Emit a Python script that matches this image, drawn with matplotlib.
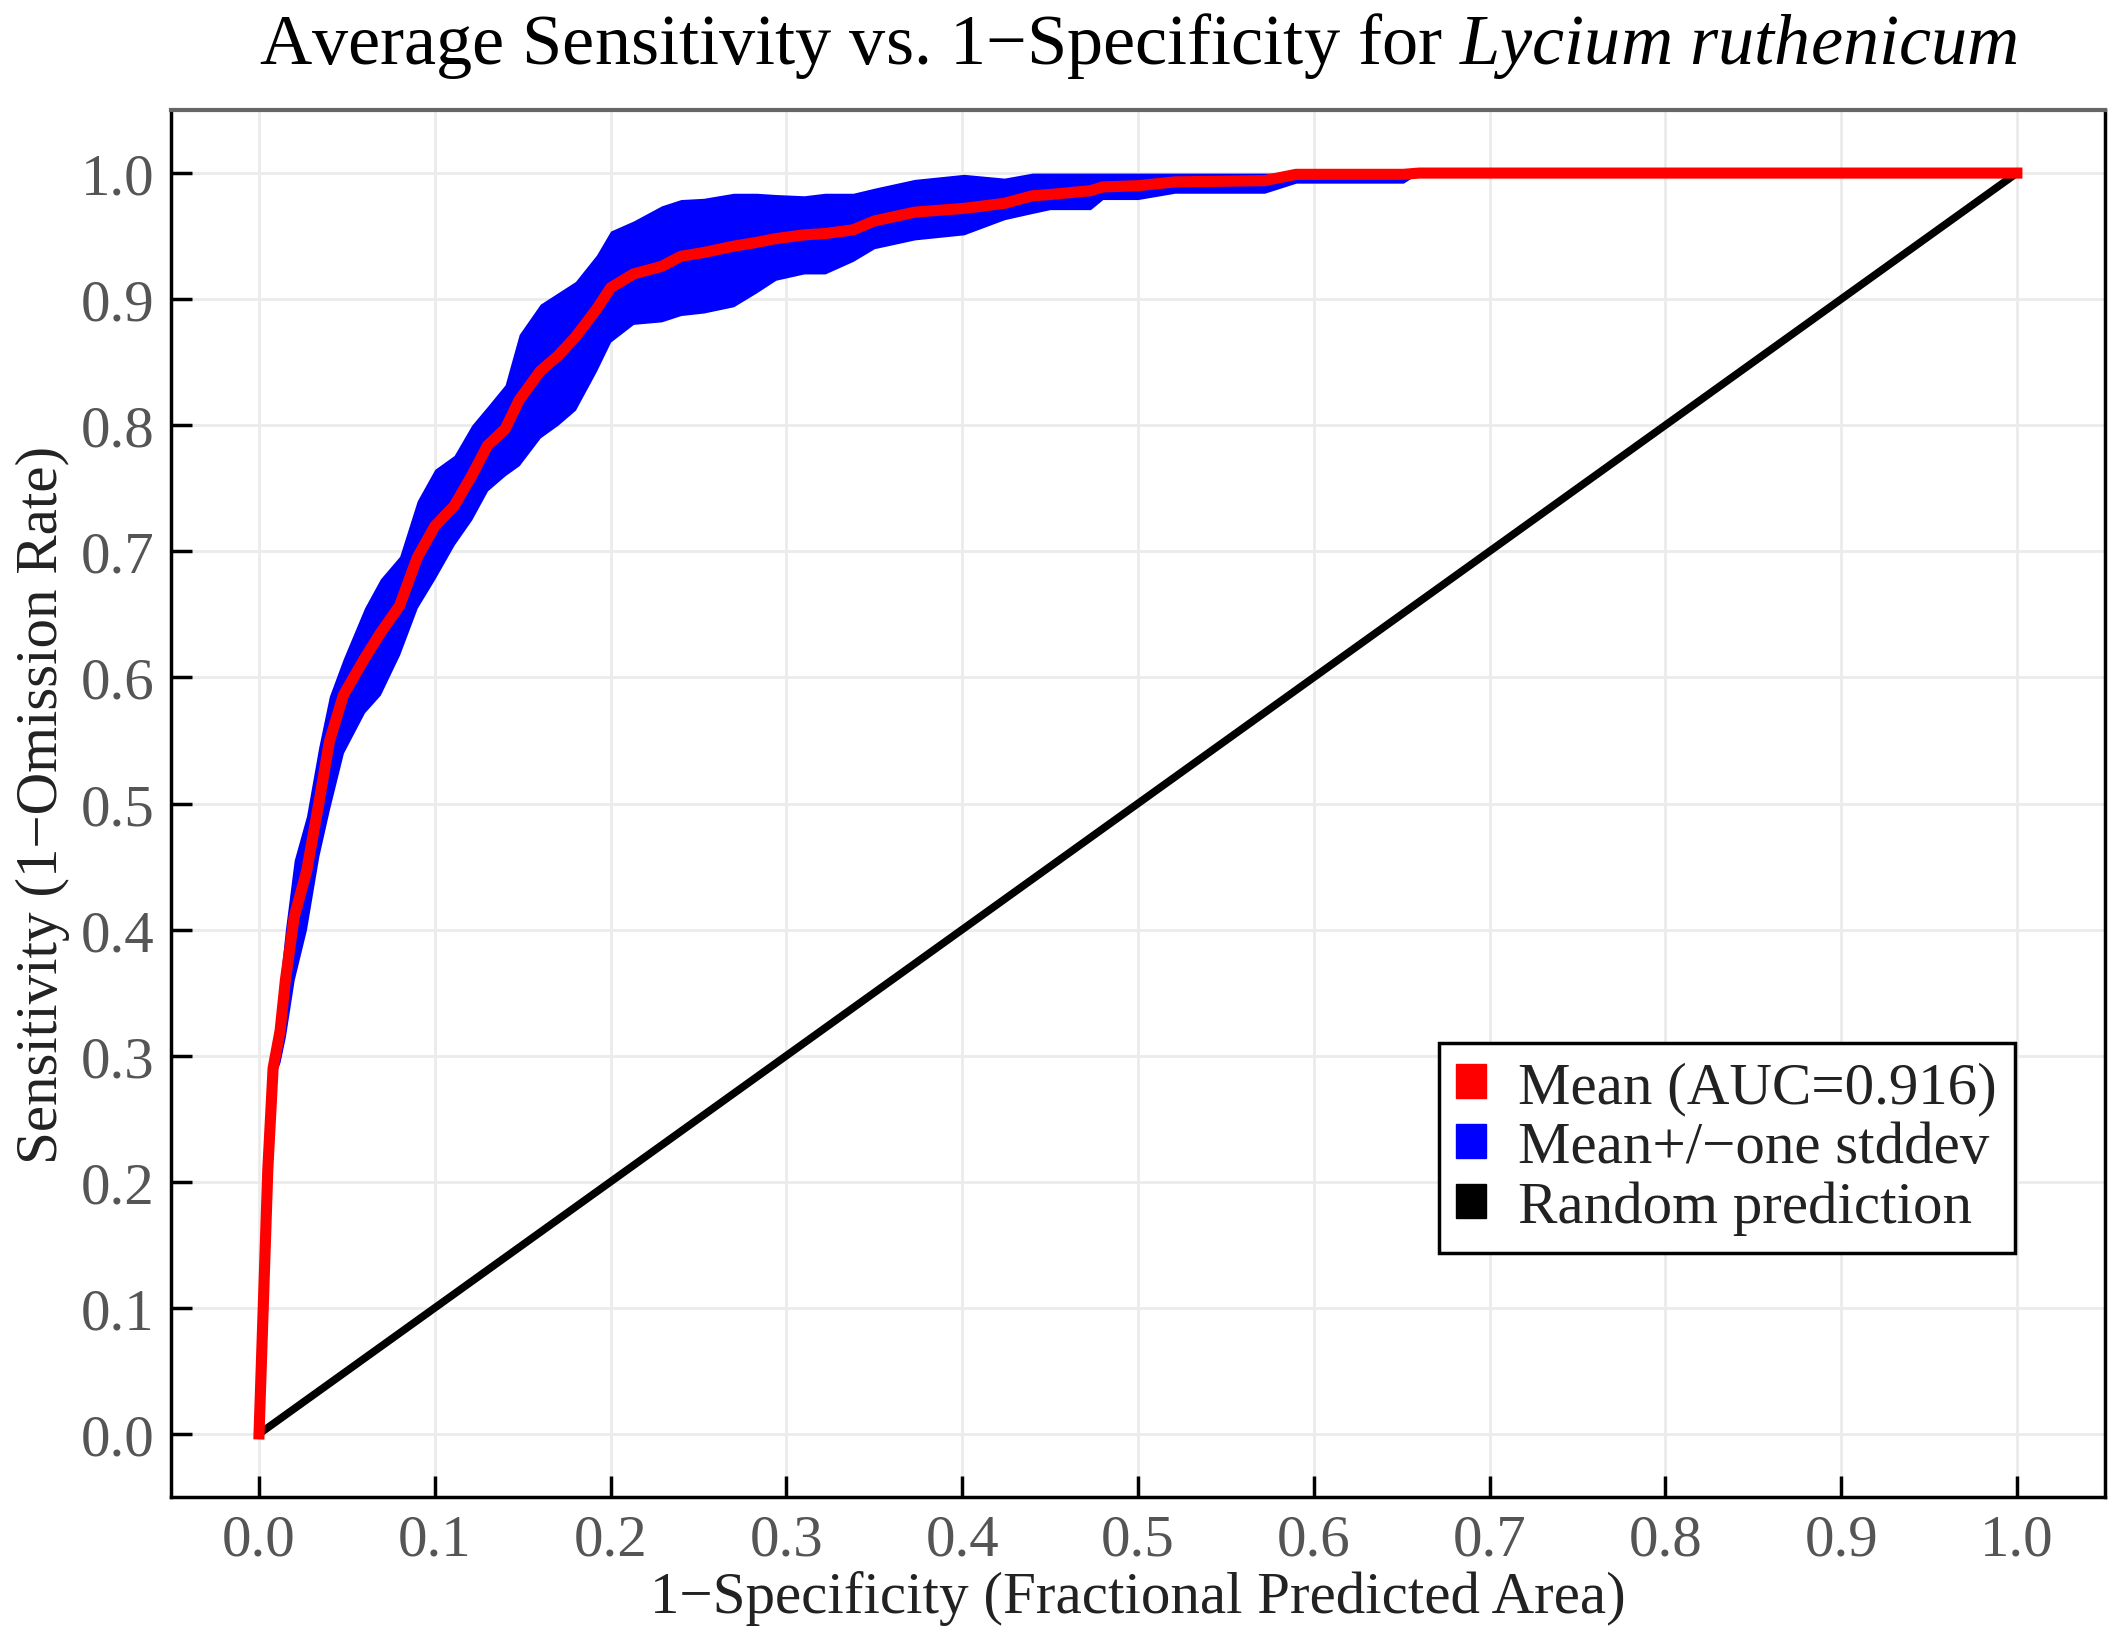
import numpy as np
import matplotlib
matplotlib.use('Agg')
import matplotlib.pyplot as plt
from matplotlib.patches import Patch

plt.rcParams['font.family'] = ['Liberation Serif', 'DejaVu Serif']
plt.rcParams['mathtext.fontset'] = 'custom'
plt.rcParams['mathtext.rm'] = 'Liberation Serif'
plt.rcParams['mathtext.it'] = 'Liberation Serif:italic'

# 1-specificity values and the averaged ROC curve
fpr = [0.000, 0.005, 0.008, 0.012, 0.015, 0.020, 0.027, 0.034, 0.040, 0.048,
       0.060, 0.069, 0.080, 0.090, 0.100, 0.111, 0.121, 0.130, 0.140, 0.148,
       0.160, 0.170, 0.180, 0.192, 0.200, 0.213, 0.229, 0.240, 0.253, 0.270,
       0.283, 0.294, 0.310, 0.322, 0.338, 0.350, 0.373, 0.401, 0.424, 0.440,
       0.450, 0.473, 0.480, 0.500, 0.521, 0.572, 0.590, 0.651, 0.660, 1.000]
mean_tpr = [0.000, 0.210, 0.290, 0.320, 0.360, 0.410, 0.446, 0.500, 0.549, 0.586,
            0.615, 0.635, 0.657, 0.695, 0.720, 0.736, 0.760, 0.784, 0.797, 0.820,
            0.843, 0.855, 0.870, 0.892, 0.909, 0.920, 0.926, 0.934, 0.937, 0.942,
            0.945, 0.948, 0.951, 0.952, 0.955, 0.962, 0.969, 0.972, 0.976, 0.982,
            0.983, 0.986, 0.989, 0.990, 0.993, 0.994, 0.999, 0.999, 1.000, 1.000]
upper_tpr = [0.000, 0.210, 0.300, 0.360, 0.400, 0.455, 0.490, 0.545, 0.585, 0.615,
             0.655, 0.678, 0.696, 0.740, 0.765, 0.776, 0.800, 0.815, 0.832, 0.872,
             0.896, 0.905, 0.914, 0.935, 0.954, 0.962, 0.974, 0.979, 0.980, 0.984,
             0.984, 0.983, 0.982, 0.984, 0.984, 0.988, 0.995, 0.999, 0.996, 1.000,
             1.000, 1.000, 1.000, 1.000, 1.000, 1.000, 1.000, 1.000, 1.000, 1.000]
lower_tpr = [0.000, 0.210, 0.280, 0.295, 0.315, 0.360, 0.400, 0.458, 0.495, 0.540,
             0.572, 0.586, 0.618, 0.655, 0.678, 0.705, 0.725, 0.748, 0.760, 0.768,
             0.790, 0.800, 0.812, 0.843, 0.866, 0.880, 0.882, 0.887, 0.889, 0.894,
             0.905, 0.915, 0.920, 0.920, 0.930, 0.940, 0.947, 0.951, 0.963, 0.968,
             0.971, 0.971, 0.979, 0.979, 0.984, 0.984, 0.992, 0.992, 1.000, 1.000]
random_x = [0.0, 1.0]
random_y = [0.0, 1.0]
auc = 0.916
ticks = [0.0, 0.1, 0.2, 0.3, 0.4, 0.5, 0.6, 0.7, 0.8, 0.9, 1.0]

fig = plt.figure(figsize=(21.26, 16.4), dpi=100)
ax = fig.add_axes([0.0805, 0.0866, 0.9095, 0.8457])

ax.grid(True, color='#ebebeb', linewidth=2.0, zorder=0)
ax.set_axisbelow(True)

ax.fill_between(fpr, lower_tpr, upper_tpr, color='#0000ff', linewidth=0, zorder=2)
ax.plot(random_x, random_y, color='black', linewidth=5.5, zorder=3)
ax.plot(fpr, mean_tpr, color='#ff0000', linewidth=8, zorder=4,
        solid_joinstyle='round')

ax.set_xlim(-0.05, 1.05)
ax.set_ylim(-0.05, 1.05)
ax.set_xticks(ticks)
ax.set_yticks(ticks)
ax.set_xticklabels(['%.1f' % t for t in ticks])
ax.set_yticklabels(['%.1f' % t for t in ticks])
ax.tick_params(direction='in', length=15, width=2.5, labelsize=42.5,
               labelcolor='#555555', pad=12)

for side in ['left', 'bottom', 'right']:
    ax.spines[side].set_color('black')
    ax.spines[side].set_linewidth(2.5)
ax.spines['top'].set_color('#666666')
ax.spines['top'].set_linewidth(3)

ax.set_xlabel('1\u2212Specificity (Fractional Predicted Area)', fontsize=42.5,
              color='#222222', labelpad=2)
ax.set_ylabel('Sensitivity (1\u2212Omission Rate)', fontsize=42.5,
              color='#222222', labelpad=8)
ax.set_title('Average Sensitivity vs. 1\u2212Specificity for '
             '$\\mathit{Lycium\\ ruthenicum}$', fontsize=52, pad=34)

handles = [Patch(color='#ff0000'), Patch(color='#0000ff'), Patch(color='black')]
labels = ['Mean (AUC=%.3f)' % auc, 'Mean+/\u2212one stddev', 'Random prediction']
leg = ax.legend(handles, labels, loc='lower right', bbox_to_anchor=(0.9535, 0.176),
                fontsize=42.5, frameon=True, fancybox=False, edgecolor='black',
                framealpha=1, handlelength=0.5, handleheight=0.5,
                handletextpad=0.55, borderpad=0.3, labelspacing=0.1,
                borderaxespad=0)
leg.get_frame().set_linewidth(2.5)
for t in leg.get_texts():
    t.set_color('#222222')

fig.savefig('out.png', dpi=100)
